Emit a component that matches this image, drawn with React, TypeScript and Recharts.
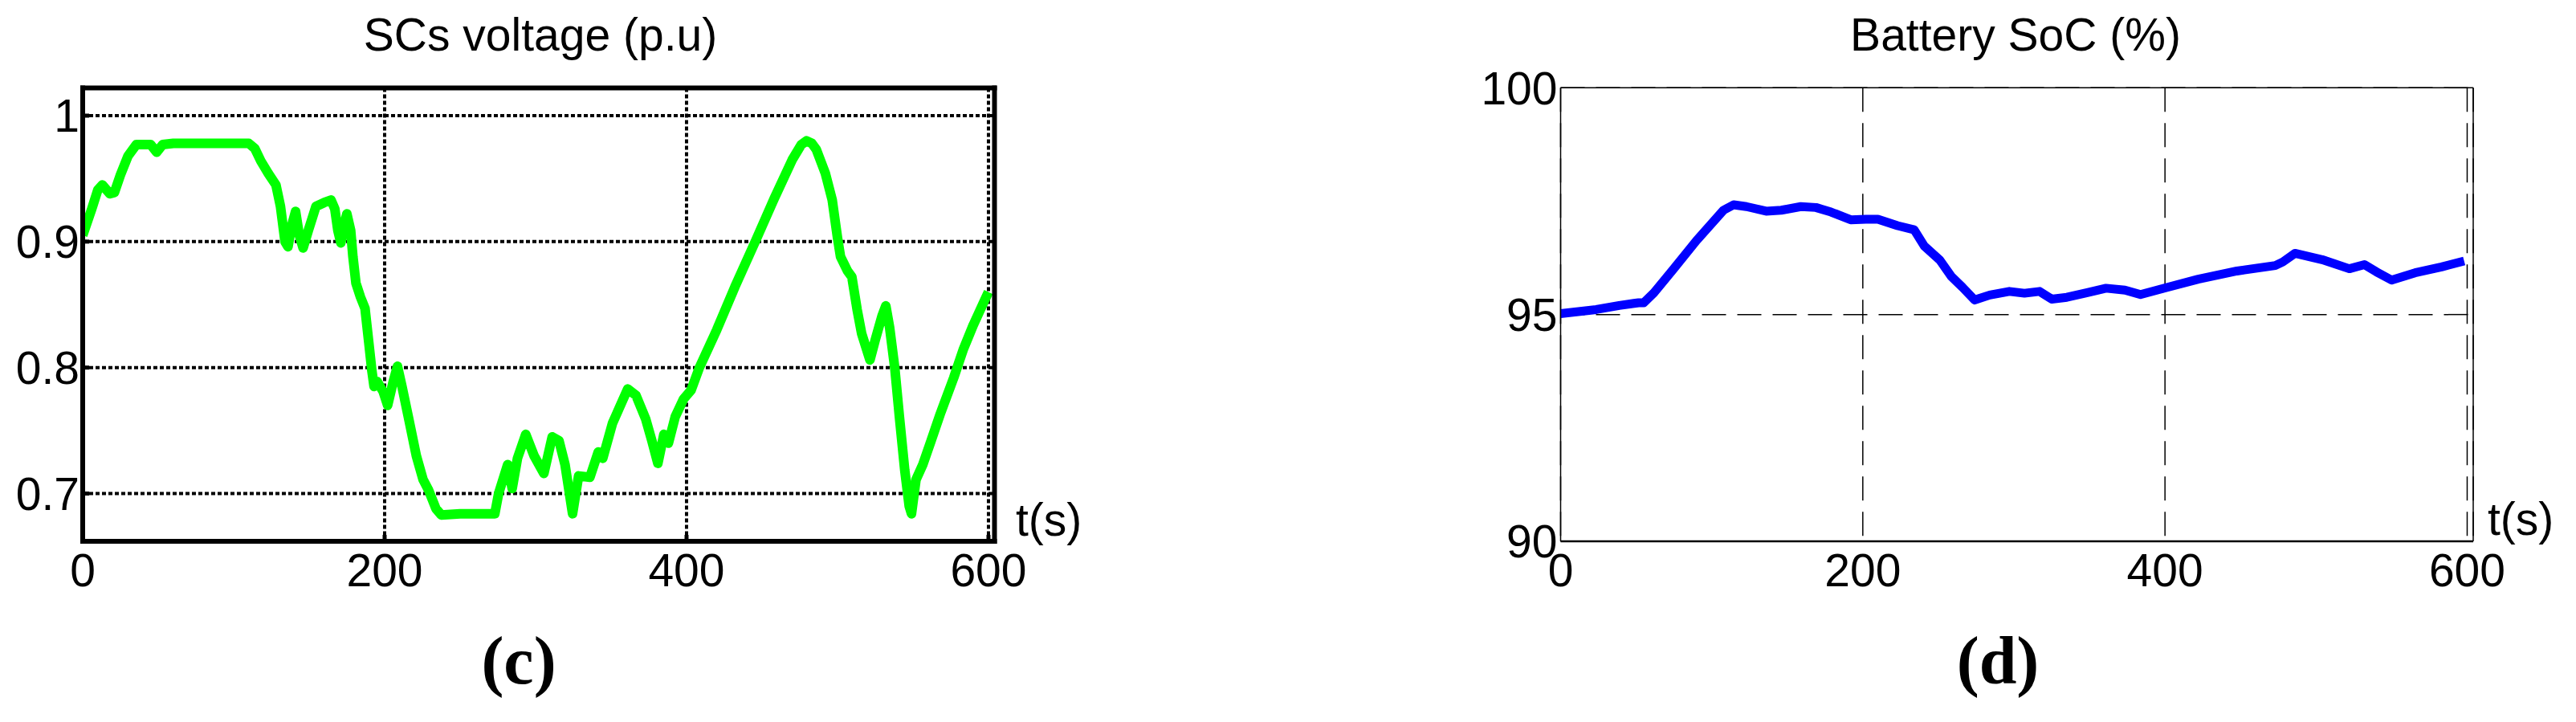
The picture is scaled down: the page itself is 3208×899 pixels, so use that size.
import { LineChart, Line, XAxis, YAxis, CartesianGrid } from "recharts";

const FONT = '"Liberation Sans", Arial, Helvetica, sans-serif';

// supercapacitor voltage
const scTime = [
  0, 6, 10, 13, 18, 21, 25, 30, 35.5, 45, 49, 53, 60, 80, 95, 110, 114, 118, 123, 128,
  131, 134, 136, 138.5, 141, 143.5, 146, 149.5, 154.5, 160, 164.5, 167, 169, 171, 173.5, 175,
  177.5, 179, 181, 184, 187, 189.5, 191.5, 193, 195, 199, 202, 205.5, 208.5, 211.5, 215.5, 221,
  225.5, 229, 234, 237.5, 250, 260, 273, 275.5, 281.5, 284.5, 288, 293.5, 299, 305.5, 311, 315.5,
  319.5, 324.5, 328.5, 336, 341.5, 344.5, 351, 361, 366.5, 373, 377, 381, 385, 388, 392.5, 398,
  403, 408.5, 420, 432, 445.5, 458, 470, 476, 479.5, 483, 486, 492, 496.5, 500, 502, 506.5,
  509.5, 513, 516, 521.5, 525, 529.5, 532, 534.5, 538, 541, 544.5, 547.5, 549, 552, 556.5, 562,
  568, 577, 583.5, 590, 596.5, 600,
];
const scVoltage = [
  0.905, 0.926, 0.941, 0.945, 0.938, 0.939, 0.953, 0.968, 0.977, 0.977, 0.971, 0.977, 0.978, 0.978, 0.978, 0.978, 0.974, 0.964, 0.954, 0.945,
  0.928, 0.9, 0.896, 0.913, 0.924, 0.905, 0.895, 0.909, 0.928, 0.931, 0.933, 0.926, 0.909, 0.899, 0.915, 0.922,
  0.909, 0.888, 0.867, 0.856, 0.847, 0.82, 0.798, 0.785, 0.789, 0.781, 0.77, 0.788, 0.801, 0.785, 0.762, 0.73,
  0.711, 0.703, 0.688, 0.683, 0.684, 0.684, 0.684, 0.7, 0.723, 0.704, 0.728, 0.747, 0.73, 0.716, 0.745, 0.742,
  0.723, 0.684, 0.714, 0.713, 0.733, 0.728, 0.756, 0.783, 0.778, 0.759, 0.742, 0.724, 0.747, 0.74, 0.761, 0.775,
  0.782, 0.8, 0.83, 0.864, 0.9, 0.934, 0.965, 0.977, 0.98, 0.978, 0.973, 0.954, 0.933, 0.903, 0.888, 0.877,
  0.872, 0.846, 0.827, 0.806, 0.822, 0.841, 0.849, 0.832, 0.799, 0.761, 0.719, 0.69, 0.684, 0.711, 0.723, 0.742,
  0.763, 0.792, 0.815, 0.834, 0.851, 0.86,
];

// battery state of charge
const socTime = [
  0, 23.5, 38.8, 51.6, 55, 61.8, 74.6, 89.9, 107.8, 114.5, 123, 136, 146, 159, 169, 179, 192, 202,
  210, 223, 234, 240.7, 251, 258.6, 266, 274, 284, 297, 307, 317, 325, 335, 348, 361, 373.5, 383.8,
  401.6, 422, 447.6, 473, 478, 486, 504, 522, 532, 540, 550, 565.5, 583, 598,
];
const socLevel = [
  95.02, 95.11, 95.2, 95.26, 95.26, 95.48, 96.0, 96.63, 97.3, 97.42, 97.38, 97.28, 97.3, 97.38, 97.36, 97.26, 97.09, 97.1,
  97.1, 96.96, 96.87, 96.51, 96.2, 95.84, 95.6, 95.32, 95.43, 95.51, 95.47, 95.51, 95.34, 95.38, 95.48, 95.58, 95.54, 95.44,
  95.6, 95.78, 95.96, 96.08, 96.16, 96.35, 96.21, 96.01, 96.1, 95.94, 95.76, 95.92, 96.05, 96.18,
];

const timeTicks = [0, 200, 400, 600];
const voltageTicks = [0.7, 0.8, 0.9, 1];
const socTicks = [90, 95, 100];

const scData = scTime.map((t, i) => ({ t, v: scVoltage[i] }));
const socData = socTime.map((t, i) => ({ t, v: socLevel[i] }));

const tickText = { fill: "#000", fontSize: 57, fontFamily: FONT };

function VoltageChart() {
  const frame = { stroke: "#000", strokeWidth: 6, strokeLinecap: "square" as const };
  const ticks = { stroke: "#000", strokeWidth: 5 };
  return (
    <LineChart width={1400} height={899} data={scData} margin={{ top: 108.5, right: 160.5, bottom: 165, left: 0 }}>
      <CartesianGrid stroke="#000" strokeWidth={4} strokeDasharray="5 3" />
      <XAxis dataKey="t" type="number" domain={[0, 604]} ticks={timeTicks} allowDataOverflow interval={0}
        height={60} axisLine={frame} tickLine={ticks} tickSize={-8} tickMargin={24} tick={tickText} />
      <XAxis xAxisId="top" orientation="top" dataKey="t" type="number" domain={[0, 604]} ticks={timeTicks}
        allowDataOverflow interval={0} height={1} axisLine={frame} tickLine={ticks} tickSize={-8} tick={false} />
      <YAxis type="number" domain={[0.6621, 1.022]} ticks={voltageTicks} allowDataOverflow interval={0}
        width={103} axisLine={frame} tickLine={ticks} tickSize={-8} tickMargin={12} tick={tickText} />
      <YAxis yAxisId="right" orientation="right" type="number" domain={[0.6621, 1.022]} ticks={voltageTicks}
        allowDataOverflow interval={0} width={1} axisLine={frame} tickLine={ticks} tickSize={-8} tick={false} />
      <Line type="linear" dataKey="v" stroke="#00ff00" strokeWidth={12} strokeLinejoin="round"
        dot={false} isAnimationActive={false} />
    </LineChart>
  );
}

function SocChart() {
  const thin = { stroke: "#000", strokeWidth: 1.5 };
  return (
    <LineChart width={1508} height={899} data={socData} margin={{ top: 108.3, right: 127, bottom: 165, left: 0 }}>
      <CartesianGrid stroke="#000" strokeWidth={1.5} strokeDasharray="30 14" />
      <XAxis dataKey="t" type="number" domain={[0, 604]} ticks={timeTicks} allowDataOverflow interval={0}
        height={60} axisLine={{ stroke: "#000", strokeWidth: 2.5 }} tickLine={false} tickSize={0} tickMargin={16} tick={tickText} />
      <XAxis xAxisId="top" orientation="top" dataKey="t" type="number" domain={[0, 604]} ticks={timeTicks}
        allowDataOverflow height={1} axisLine={thin} tickLine={false} tick={false} />
      <YAxis type="number" domain={[90, 100]} ticks={socTicks} allowDataOverflow interval={0}
        width={243.5} axisLine={thin} tickLine={false} tickSize={0} tickMargin={4} tick={tickText} />
      <YAxis yAxisId="right" orientation="right" type="number" domain={[90, 100]} ticks={socTicks}
        allowDataOverflow width={1} axisLine={thin} tickLine={false} tick={false} />
      <Line type="linear" dataKey="v" stroke="#0000ff" strokeWidth={11} strokeLinejoin="round"
        dot={false} isAnimationActive={false} />
    </LineChart>
  );
}

export default function App() {
  return (
    <div style={{ position: "absolute", left: 0, top: 0, width: 3208, height: 899, background: "#fff", overflow: "hidden" }}>
      <div style={{ position: "absolute", left: 0, top: 0 }}>
        <VoltageChart />
      </div>
      <div style={{ position: "absolute", left: 1700, top: 0 }}>
        <SocChart />
      </div>
      <svg width={3208} height={899} style={{ position: "absolute", left: 0, top: 0, pointerEvents: "none" }}>
        <g fontFamily={FONT} fontSize={57} fill="#000">
          <text x={673} y={63} textAnchor="middle">SCs voltage (p.u)</text>
          <text x={2510} y={63} textAnchor="middle">Battery SoC (%)</text>
          <text x={1265} y={667}>t(s)</text>
          <text x={3098} y={666}>t(s)</text>
        </g>
        <g fontFamily='"Liberation Serif", "Times New Roman", serif' fontWeight="bold" fontSize={84} fill="#000">
          <text x={646} y={851} textAnchor="middle">(c)</text>
          <text x={2488} y={851} textAnchor="middle">(d)</text>
        </g>
      </svg>
    </div>
  );
}
